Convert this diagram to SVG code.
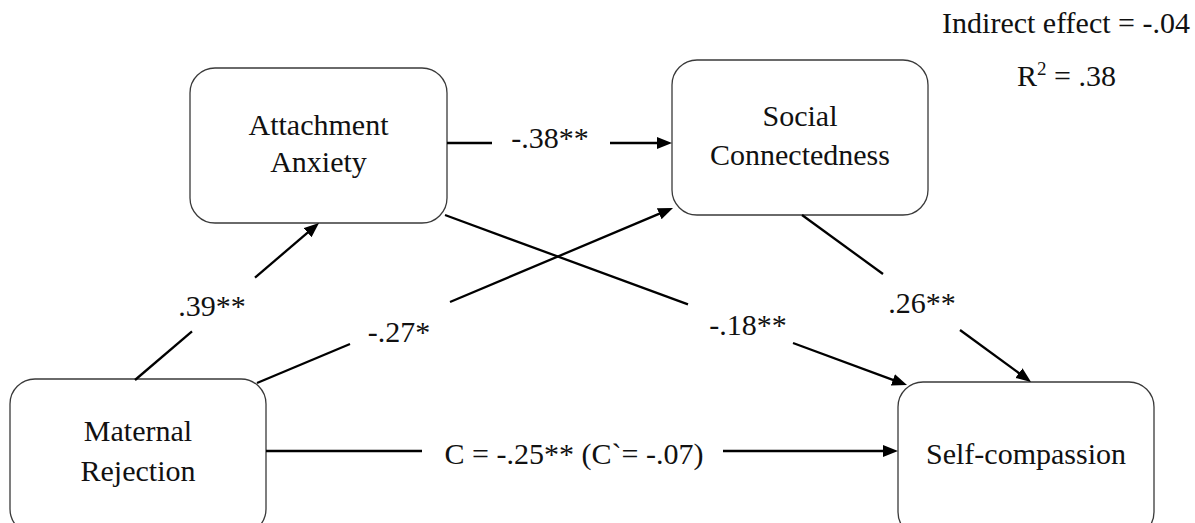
<svg xmlns="http://www.w3.org/2000/svg" width="1195" height="523" viewBox="0 0 1195 523">
  <style>
    .box { fill: #ffffff; stroke: #3a3a3a; stroke-width: 1.3; }
    .lbl { font-family: "Liberation Serif", "Times New Roman", serif; font-size: 30px; fill: #111111; text-anchor: middle; }
    .edge { stroke: #000000; stroke-width: 2.3; fill: none; }
    .arrow { marker-end: url(#head); }
  </style>
  <defs>
    <marker id="head" markerUnits="userSpaceOnUse" markerWidth="16" markerHeight="13" refX="10" refY="6" orient="auto">
      <path d="M0,0 L15,6 L0,12 Z" fill="#000000"/>
    </marker>
  </defs>

  <rect width="1195" height="523" fill="#ffffff"/>

  <!-- model summary -->
  <g id="summary">
    <text class="lbl" x="1190" y="33" style="text-anchor:end">Indirect effect = -.04</text>
    <text class="lbl" x="1116" y="86" style="text-anchor:end">R<tspan dy="-11" font-size="19">2</tspan><tspan dy="11"> = .38</tspan></text>
  </g>

  <!-- nodes -->
  <g id="attachment-anxiety">
    <rect class="box" x="190" y="68" width="257" height="155" rx="25" ry="25"/>
    <text class="lbl" x="318.5" y="135">Attachment</text>
    <text class="lbl" x="318.5" y="172">Anxiety</text>
  </g>
  <g id="social-connectedness">
    <rect class="box" x="672" y="60" width="256" height="155" rx="25" ry="25"/>
    <text class="lbl" x="800" y="126">Social</text>
    <text class="lbl" x="800" y="165">Connectedness</text>
  </g>
  <g id="maternal-rejection">
    <rect class="box" x="10" y="379" width="256" height="155" rx="25" ry="25"/>
    <text class="lbl" x="138" y="441">Maternal</text>
    <text class="lbl" x="138" y="481">Rejection</text>
  </g>
  <g id="self-compassion">
    <rect class="box" x="898" y="382" width="256" height="155" rx="25" ry="25"/>
    <text class="lbl" x="1026" y="464">Self-compassion</text>
  </g>

  <!-- connectors, each broken around its coefficient -->
  <g id="connectors">
    <line class="edge" x1="447" y1="143" x2="492" y2="143"/>
    <line class="edge arrow" x1="610" y1="143" x2="667" y2="143"/>
    <text class="lbl" x="550" y="148">-.38**</text>

    <line class="edge" x1="135" y1="380" x2="192" y2="331.4"/>
    <line class="edge arrow" x1="255" y1="277.6" x2="315.2" y2="226.2"/>
    <text class="lbl" x="212" y="316">.39**</text>

    <line class="edge" x1="257" y1="383" x2="350" y2="344"/>
    <line class="edge arrow" x1="450" y1="302" x2="668.4" y2="209.9"/>
    <text class="lbl" x="399" y="342">-.27*</text>

    <line class="edge" x1="445" y1="215" x2="688" y2="304.4"/>
    <line class="edge arrow" x1="793" y1="343" x2="902.3" y2="383.3"/>
    <text class="lbl" x="748" y="335">-.18**</text>

    <line class="edge" x1="802" y1="215" x2="883" y2="274"/>
    <line class="edge arrow" x1="960" y1="330" x2="1027" y2="379"/>
    <text class="lbl" x="922" y="313">.26**</text>

    <line class="edge" x1="266" y1="451" x2="422" y2="451"/>
    <line class="edge arrow" x1="723" y1="451" x2="893" y2="451"/>
    <text class="lbl" x="574" y="464">C = -.25** (C`= -.07)</text>
  </g>
</svg>
